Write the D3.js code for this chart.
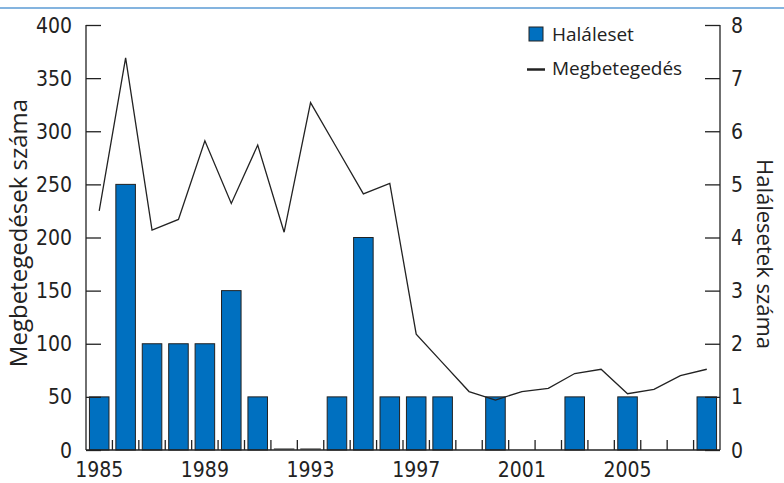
<!DOCTYPE html>
<html>
<head>
<meta charset="utf-8">
<script src="https://cdn.jsdelivr.net/npm/d3@7"></script>
<style>
  body { margin: 0; background: #fff; }
  svg text { fill: #222; }
</style>
</head>
<body>
<svg id="chart" width="784" height="483"></svg>
<script>
// data
var years = [1985, 1986, 1987, 1988, 1989, 1990, 1991, 1992, 1993, 1994, 1995, 1996,
             1997, 1998, 1999, 2000, 2001, 2002, 2003, 2004, 2005, 2006, 2007, 2008]
var deaths = [1, 5, 2, 2, 2, 3, 1, 0, 0, 1, 4, 1,
              1, 1, null, 1, null, null, 1, null, 1, null, null, 1]
var cases = [225, 369, 207, 217, 291, 232, 287, 205, 327, 284, 241, 251,
             109, 82, 55, 47, 55, 58, 72, 76, 53, 57, 70, 76]
var leftTicks = [0, 50, 100, 150, 200, 250, 300, 350, 400]
var rightTicks = [0, 1, 2, 3, 4, 5, 6, 7, 8]
var yearLabels = [1985, 1989, 1993, 1997, 2001, 2005]

var barColor = "#0070c0"
var ink = "#222"
var tickFont = "'Liberation Sans Narrow', 'DejaVu Sans Condensed', sans-serif"
var textFont = "'Open Sans', 'DejaVu Sans', sans-serif"

var svg = d3.select("#chart")
var plotLeft = 86, plotRight = 720, plotTop = 25, plotBottom = 450

// thin blue rule at the top
svg.append("line")
    .attr("x1", 0).attr("x2", 784)
    .attr("y1", 8).attr("y2", 8)
    .style("stroke", "#5b9bd5")
    .style("stroke-width", 1.5)

//scales
var x = d3.scaleBand()
    .domain(years)
    .range([plotLeft, plotRight])
    .paddingInner(0.26)
    .paddingOuter(0.13)

var yCases = d3.scaleLinear().domain([0, 400]).range([plotBottom, plotTop])
var yDeaths = d3.scaleLinear().domain([0, 8]).range([plotBottom, plotTop])

//bars (deaths, right axis) - zero values still show as a flat outline
svg.append("g")
    .selectAll("rect")
    .data(years.map(function(d, i) { return { year: d, value: deaths[i] } })
        .filter(function(d) { return d.value !== null }))
    .enter().append("rect")
    .attr("x", function(d) { return x(d.year) })
    .attr("y", function(d) { return yDeaths(d.value) - (d.value === 0 ? 1 : 0) })
    .attr("width", x.bandwidth())
    .attr("height", function(d) { return Math.max(yDeaths(0) - yDeaths(d.value), 0.01) })
    .style("fill", barColor)
    .style("stroke", ink)
    .style("stroke-width", 1)

//line (cases, left axis)
var line = d3.line()
    .x(function(d, i) { return x(years[i]) + x.bandwidth() / 2 })
    .y(function(d) { return yCases(d) })

svg.append("path")
    .datum(cases)
    .attr("d", line)
    .style("fill", "none")
    .style("stroke", ink)
    .style("stroke-width", 1.3)
    .style("stroke-linejoin", "miter")

//left axis
var leftAxis = svg.append("g")
    .attr("transform", "translate(" + plotLeft + ",0)")
    .call(d3.axisRight(yCases).tickValues(leftTicks).tickSize(15).tickFormat(""))
leftAxis.select(".domain").remove()
leftAxis.selectAll("line").style("stroke", ink).style("stroke-width", 1.3)
svg.append("line")
    .attr("x1", plotLeft).attr("x2", plotLeft).attr("y1", plotTop).attr("y2", plotBottom)
    .style("stroke", ink).style("stroke-width", 1.3)
svg.append("g")
    .selectAll("text")
    .data(leftTicks)
    .enter().append("text")
    .attr("x", plotLeft - 14)
    .attr("y", function(d) { return yCases(d) })
    .attr("dy", "0.36em")
    .attr("text-anchor", "end")
    .style("font-family", tickFont)
    .style("font-size", "21px")
    .text(function(d) { return d })

//right axis
var rightAxis = svg.append("g")
    .attr("transform", "translate(" + plotRight + ",0)")
    .call(d3.axisLeft(yDeaths).tickValues(rightTicks).tickSize(15).tickFormat(""))
rightAxis.select(".domain").remove()
rightAxis.selectAll("line").style("stroke", ink).style("stroke-width", 1.3)
svg.append("line")
    .attr("x1", plotRight).attr("x2", plotRight).attr("y1", plotTop).attr("y2", plotBottom)
    .style("stroke", ink).style("stroke-width", 1.3)
svg.append("g")
    .selectAll("text")
    .data(rightTicks)
    .enter().append("text")
    .attr("x", plotRight + 11)
    .attr("y", function(d) { return yDeaths(d) })
    .attr("dy", "0.36em")
    .style("font-family", tickFont)
    .style("font-size", "21px")
    .text(function(d) { return d })

//x axis: baseline, small ticks between bars, labels
svg.append("line")
    .attr("x1", plotLeft).attr("x2", plotRight).attr("y1", plotBottom).attr("y2", plotBottom)
    .style("stroke", ink).style("stroke-width", 1.3)
svg.append("g")
    .selectAll("line")
    .data(years.slice(1))
    .enter().append("line")
    .attr("x1", function(d) { return x(d) - x.step() * x.paddingInner() / 2 })
    .attr("x2", function(d) { return x(d) - x.step() * x.paddingInner() / 2 })
    .attr("y1", plotBottom)
    .attr("y2", plotBottom - 10)
    .style("stroke", ink)
    .style("stroke-width", 1.3)
svg.append("g")
    .selectAll("text")
    .data(yearLabels)
    .enter().append("text")
    .attr("x", function(d) { return x(d) + x.bandwidth() / 2 })
    .attr("y", 477)
    .attr("text-anchor", "middle")
    .style("font-family", tickFont)
    .style("font-size", "21px")
    .text(function(d) { return d })

//axis titles
svg.append("text")
    .attr("transform", "translate(27,233) rotate(-90)")
    .attr("text-anchor", "middle")
    .style("font-family", textFont)
    .style("font-size", "24px")
    .text("Megbetegedések száma")

svg.append("text")
    .attr("transform", "translate(757,254) rotate(90)")
    .attr("text-anchor", "middle")
    .style("font-family", textFont)
    .style("font-size", "22px")
    .text("Halálesetek száma")

//legend
var legend = svg.append("g").attr("class", "legend")
legend.append("rect")
    .attr("x", 529).attr("y", 27)
    .attr("width", 14).attr("height", 14)
    .style("fill", barColor)
    .style("stroke", ink)
legend.append("text")
    .attr("x", 552).attr("y", 41)
    .style("font-family", textFont)
    .style("font-size", "19px")
    .text("Haláleset")
legend.append("line")
    .attr("x1", 527).attr("x2", 545)
    .attr("y1", 69.5).attr("y2", 69.5)
    .style("stroke", ink)
    .style("stroke-width", 2.5)
legend.append("text")
    .attr("x", 552).attr("y", 75)
    .style("font-family", textFont)
    .style("font-size", "19px")
    .text("Megbetegedés")
</script>
</body>
</html>
